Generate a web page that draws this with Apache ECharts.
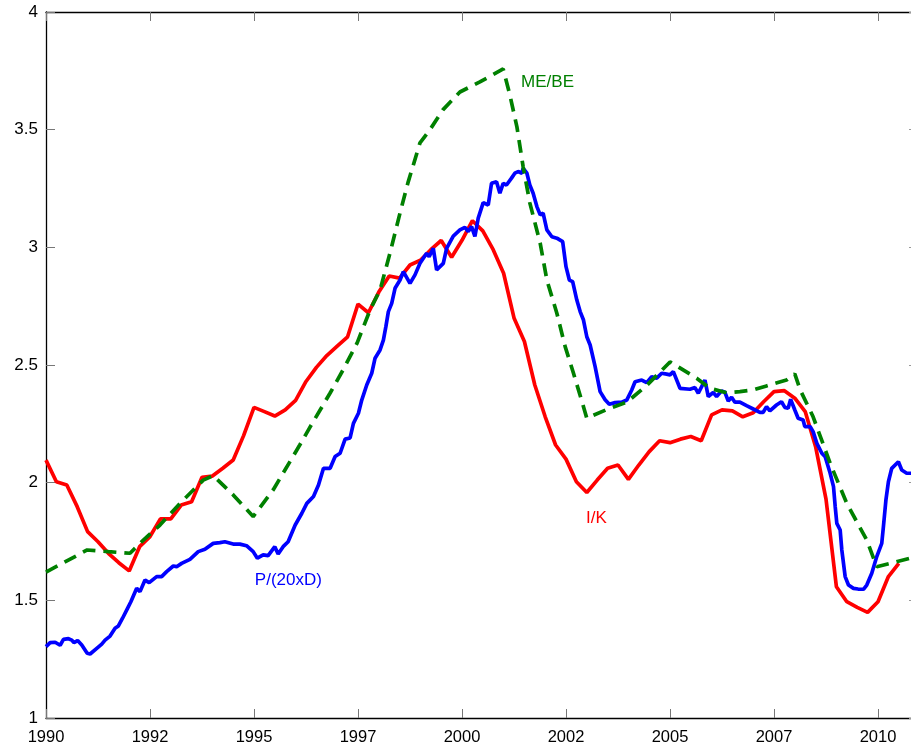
<!DOCTYPE html>
<html>
<head>
<meta charset="utf-8">
<script src="https://cdn.jsdelivr.net/npm/echarts@6/dist/echarts.min.js"></script>
<style>
html,body{margin:0;padding:0;background:#fff;}
#chart{width:911px;height:749px;}
</style>
</head>
<body>
<div id="chart"></div>
<script>
// P/(20xD) — blue, roughly monthly readings
var pdTimes = [1990.00,1990.10,1990.22,1990.26,1990.34,1990.42,1990.54,1990.62,1990.67,1990.76,1990.86,1990.99,
1991.06,1991.22,1991.34,1991.42,1991.54,1991.66,1991.74,1991.84,1991.96,1992.04,1992.18,1992.26,1992.38,1992.48,
1992.66,1992.78,1992.90,1993.06,1993.14,1993.26,1993.46,1993.66,1993.82,1994.02,1994.18,1994.30,1994.50,1994.66,
1994.82,1994.98,1995.08,1995.22,1995.34,1995.50,1995.58,1995.70,1995.82,1995.99,1996.15,1996.27,1996.43,1996.55,
1996.67,1996.83,1996.95,1997.07,1997.19,1997.31,1997.39,1997.51,1997.59,1997.71,1997.83,1997.91,1998.03,1998.11,
1998.17,1998.23,1998.31,1998.39,1998.51,1998.59,1998.75,1998.87,1998.99,1999.15,1999.21,1999.31,1999.39,1999.55,
1999.63,1999.79,1999.95,2000.07,2000.15,2000.23,2000.31,2000.39,2000.51,2000.63,2000.71,2000.83,2000.91,2000.99,
2001.07,2001.19,2001.27,2001.35,2001.44,2001.47,2001.56,2001.63,2001.71,2001.80,2001.88,2001.95,2002.04,2002.16,
2002.28,2002.42,2002.50,2002.58,2002.66,2002.76,2002.84,2002.92,2003.00,2003.08,2003.20,2003.32,2003.44,2003.54,
2003.68,2003.84,2003.96,2004.08,2004.16,2004.32,2004.44,2004.56,2004.68,2004.80,2004.92,2005.00,2005.08,2005.24,
2005.48,2005.60,2005.68,2005.84,2005.92,2006.04,2006.12,2006.24,2006.32,2006.40,2006.48,2006.56,2006.68,2006.84,
2007.00,2007.16,2007.24,2007.32,2007.40,2007.56,2007.68,2007.76,2007.84,2007.90,2008.00,2008.08,2008.20,2008.24,
2008.37,2008.44,2008.53,2008.65,2008.73,2008.85,2008.93,2008.97,2009.01,2009.09,2009.13,2009.21,2009.29,2009.41,
2009.52,2009.65,2009.73,2009.85,2009.97,2010.09,2010.13,2010.19,2010.25,2010.33,2010.49,2010.57,2010.69,2010.83];
var pdValues = [1.303,1.320,1.322,1.329,1.309,1.334,1.337,1.331,1.320,1.329,1.310,1.275,
1.272,1.296,1.314,1.331,1.348,1.381,1.391,1.424,1.466,1.494,1.551,1.537,1.586,1.575,
1.601,1.601,1.622,1.646,1.643,1.657,1.674,1.707,1.717,1.742,1.745,1.749,1.739,1.739,
1.732,1.707,1.679,1.693,1.690,1.728,1.697,1.728,1.749,1.820,1.870,1.912,1.941,1.990,
2.061,2.061,2.111,2.125,2.185,2.190,2.252,2.295,2.351,2.415,2.465,2.529,2.564,2.606,
2.663,2.727,2.762,2.826,2.861,2.897,2.847,2.883,2.932,2.975,2.960,2.996,2.904,2.932,
2.996,3.048,3.074,3.085,3.067,3.088,3.046,3.124,3.190,3.180,3.272,3.279,3.230,3.272,
3.265,3.294,3.315,3.322,3.315,3.336,3.315,3.265,3.230,3.173,3.138,3.145,3.074,3.045,
3.039,3.024,2.918,2.861,2.854,2.776,2.727,2.691,2.620,2.585,2.493,2.387,2.352,2.333,
2.340,2.342,2.351,2.394,2.429,2.436,2.425,2.450,2.444,2.465,2.461,2.458,2.472,2.401,
2.397,2.404,2.380,2.436,2.366,2.383,2.366,2.390,2.384,2.347,2.363,2.342,2.342,2.327,
2.313,2.299,2.299,2.323,2.305,2.330,2.344,2.320,2.316,2.354,2.309,2.274,2.266,2.238,
2.238,2.217,2.167,2.125,2.110,2.040,1.983,1.900,1.827,1.799,1.714,1.601,1.565,1.551,
1.548,1.547,1.565,1.615,1.686,1.742,1.813,1.926,2.004,2.061,2.089,2.054,2.040,2.040];

// I/K — red, quarterly
var ikTimes = [1990.00,1990.25,1990.50,1990.75,1991.00,1991.25,1991.50,1991.75,1992.00,1992.25,1992.50,1992.75,
1993.00,1993.25,1993.50,1993.75,1994.00,1994.25,1994.50,1994.75,1995.00,1995.25,1995.50,1995.75,
1996.00,1996.25,1996.50,1996.75,1997.00,1997.25,1997.50,1997.75,1998.00,1998.25,1998.50,1998.75,
1999.00,1999.25,1999.50,1999.75,2000.00,2000.25,2000.50,2000.75,2001.00,2001.25,2001.50,2001.75,
2002.00,2002.25,2002.50,2002.75,2003.00,2003.25,2003.50,2003.75,2004.00,2004.25,2004.50,2004.75,
2005.00,2005.25,2005.50,2005.75,2006.00,2006.25,2006.50,2006.75,2007.00,2007.25,2007.50,2007.75,
2008.00,2008.25,2008.50,2008.75,2009.00,2009.25,2009.50,2009.75,2010.00,2010.25,2010.50];
var ikValues = [2.096,2.004,1.990,1.898,1.792,1.749,1.700,1.660,1.625,1.728,1.771,1.846,
1.846,1.905,1.919,2.023,2.028,2.061,2.096,2.200,2.320,2.302,2.283,2.309,
2.350,2.430,2.490,2.540,2.580,2.620,2.759,2.722,2.810,2.878,2.869,2.925,
2.945,2.990,3.029,2.958,3.030,3.113,3.070,2.990,2.890,2.700,2.600,2.415,
2.280,2.160,2.100,2.004,1.958,2.011,2.061,2.075,2.014,2.075,2.132,2.178,
2.170,2.185,2.196,2.178,2.288,2.309,2.305,2.280,2.297,2.344,2.387,2.391,
2.359,2.302,2.153,1.930,1.558,1.494,1.470,1.449,1.494,1.601,1.657];

// ME/BE — green dashed
var mebeTimes = [1990.00,1990.99,1991.50,1992.02,1992.34,1992.74,1993.22,1993.78,1994.02,1994.50,1994.98,1995.46,
1996.10,1996.35,1996.83,1997.14,1997.48,1997.79,1998.03,1998.27,1998.51,1998.70,1998.99,1999.23,1999.54,1999.95,
2000.43,2000.99,2001.15,2001.32,2001.47,2001.63,2001.88,2002.04,2002.28,2002.48,2002.68,2002.92,2003.00,2003.51,
2003.97,2004.45,2005.00,2005.64,2005.96,2006.36,2006.68,2007.00,2007.32,2007.80,2008.00,2008.13,2008.44,2008.85,
2009.25,2009.73,2009.97,2010.29,2010.83];
var mebeValues = [1.620,1.714,1.707,1.700,1.756,1.820,1.912,2.011,2.030,1.948,1.856,1.969,
2.160,2.237,2.381,2.479,2.594,2.734,2.819,2.976,3.146,3.274,3.444,3.500,3.584,3.660,
3.703,3.758,3.648,3.512,3.342,3.189,3.017,2.861,2.720,2.578,2.465,2.323,2.274,2.313,
2.343,2.415,2.513,2.444,2.401,2.382,2.387,2.394,2.411,2.436,2.462,2.394,2.280,2.082,
1.912,1.756,1.643,1.657,1.682];

var xTickLabels = ['1990','1992','1995','1997','2000','2002','2005','2007','2010'];
var yTickLabels = ['1','1.5','2','2.5','3','3.5','4'];

var seriesLabels = [
  {text:'P/(20xD)', coord:[1995.02,1.587], color:'#0000ff'},
  {text:'I/K', coord:[2002.98,1.849], color:'#ff0000'},
  {text:'ME/BE', coord:[2001.42,3.70], color:'#008000'}
];

function zip(t, v){ return t.map(function(x,i){ return [x, v[i]]; }); }

var FONT = 'Liberation Sans, Arial, Helvetica, sans-serif';
var tickStyle = {show:true, inside:true, length:9, lineStyle:{color:'#777', width:1}};

function labelMark(l){
  return {
    symbol:'circle', symbolSize:0, silent:true, animation:false,
    data:[{coord:l.coord, value:l.text}],
    label:{show:true, position:'right', distance:0, formatter:l.text, color:l.color, fontSize:17, fontFamily:FONT, align:'left', verticalAlign:'middle'}
  };
}

var chart = echarts.init(document.getElementById('chart'), null, {renderer:'canvas'});
var xLabelIdx = function(v){
  var k = Math.round((v-1990)/2.5);
  if (Math.abs((v-1990)/2.5 - k) < 1e-6 && k >= 0 && k < xTickLabels.length) return xTickLabels[k];
  return '';
};
var yLabelIdx = function(v){
  var k = Math.round((v-1)/0.5);
  if (Math.abs((v-1)/0.5 - k) < 1e-6 && k >= 0 && k < yTickLabels.length) return yTickLabels[k];
  return '';
};

var X_MAX = 2010.793;

chart.setOption({
  animation:false,
  backgroundColor:'#ffffff',
  grid:{left:46, top:12, bottom:31, right:0, containLabel:false},
  xAxis:[
    {type:'value', position:'bottom', min:1990, max:X_MAX, interval:2.5,
     axisLine:{show:true, onZero:false, lineStyle:{color:'#000', width:1.3}},
     axisTick:tickStyle, splitLine:{show:false},
     axisLabel:{show:true, margin:11, formatter:xLabelIdx, color:'#000', fontSize:16.5, fontFamily:FONT, showMaxLabel:false}},
    {type:'value', position:'top', min:1990, max:X_MAX, interval:2.5,
     axisLine:{show:true, onZero:false, lineStyle:{color:'#000', width:1.3}},
     axisTick:tickStyle, splitLine:{show:false}, axisLabel:{show:false}}
  ],
  yAxis:[
    {type:'value', position:'left', min:1, max:4, interval:0.5,
     axisLine:{show:true, onZero:false, lineStyle:{color:'#000', width:1.3}},
     axisTick:tickStyle, splitLine:{show:false},
     axisLabel:{show:true, margin:8, formatter:yLabelIdx, color:'#000', fontSize:17, fontFamily:FONT}},
    {type:'value', position:'right', min:1, max:4, interval:0.5,
     axisLine:{show:false},
     axisTick:{show:true, inside:true, length:2, lineStyle:{color:'#999', width:1}}, splitLine:{show:false}, axisLabel:{show:false}}
  ],
  series:[
    {type:'line', name:'I/K', data:zip(ikTimes, ikValues), showSymbol:false, symbol:'none',
     lineStyle:{color:'#ff0000', width:3.7}, z:2, markPoint:labelMark(seriesLabels[1])},
    {type:'line', name:'P/(20xD)', data:zip(pdTimes, pdValues), showSymbol:false, symbol:'none',
     lineStyle:{color:'#0000ff', width:3.7}, z:3, markPoint:labelMark(seriesLabels[0])},
    {type:'line', name:'ME/BE', data:zip(mebeTimes, mebeValues), showSymbol:false, symbol:'none',
     lineStyle:{color:'#008000', width:3.7, type:[13,8]}, z:4, markPoint:labelMark(seriesLabels[2])}
  ]
});
</script>
</body>
</html>
